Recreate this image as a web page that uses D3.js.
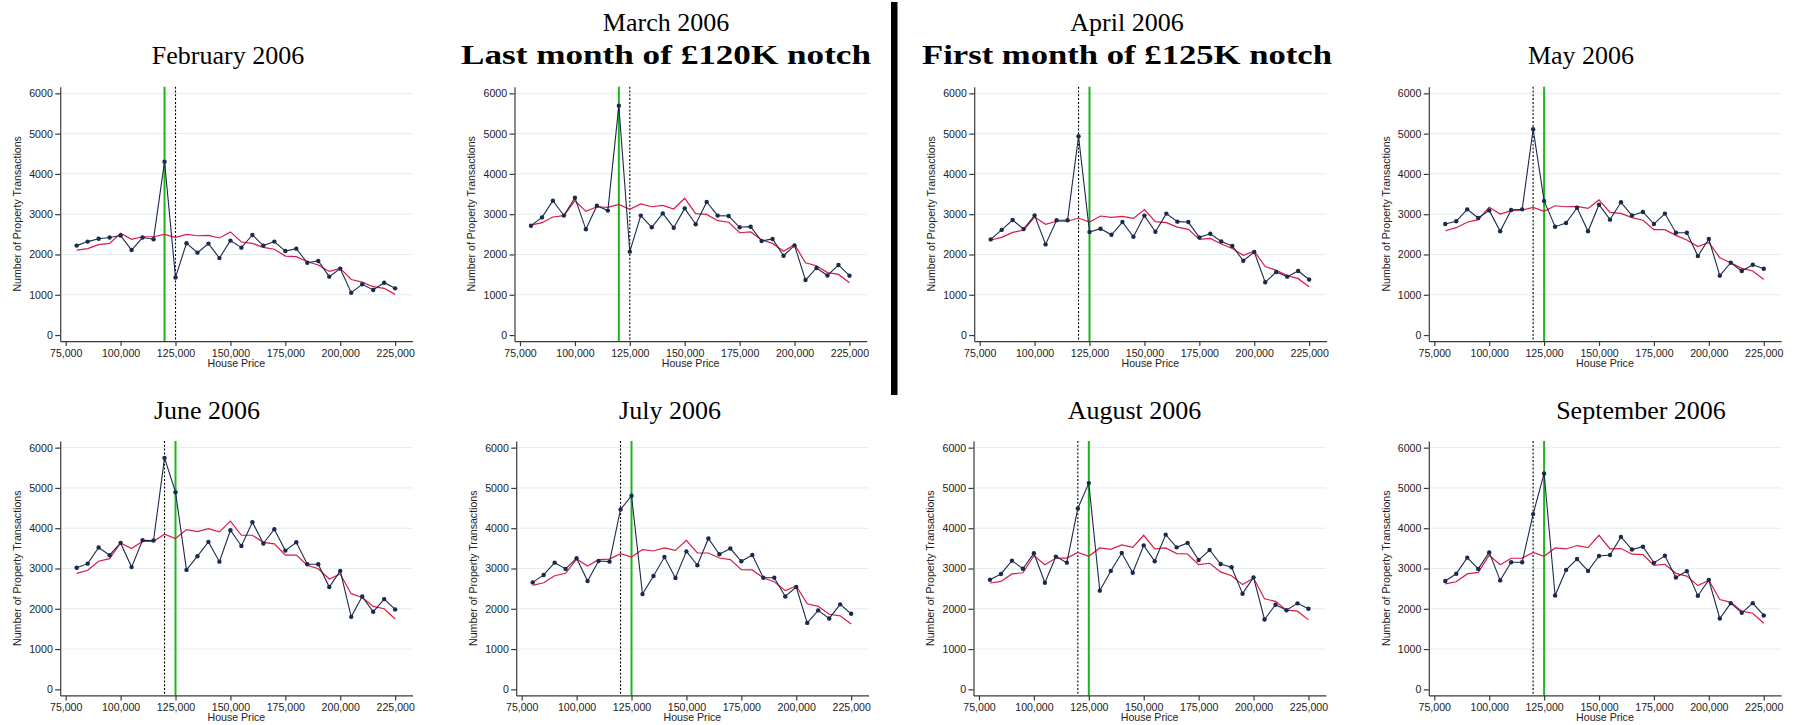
<!DOCTYPE html>
<html>
<head>
<meta charset="utf-8">
<script src="https://cdn.jsdelivr.net/npm/d3@7"></script>
<style>
  body { margin: 0; background: #fff; }
  svg { display: block; }
</style>
</head>
<body>
<svg id="chart" width="1796" height="725"></svg>
<script>
// house price bins (x categories)
const prices = [80000, 85000, 90000, 95000, 100000, 105000, 110000, 115000, 120000, 125000,
  130000, 135000, 140000, 145000, 150000, 155000, 160000, 165000, 170000, 175000,
  180000, 185000, 190000, 195000, 200000, 205000, 210000, 215000, 220000, 225000];

const xTicks = [75000, 100000, 125000, 150000, 175000, 200000, 225000];
const yTicks = [0, 1000, 2000, 3000, 4000, 5000, 6000];

const monthTitles = ['February 2006', 'March 2006', 'April 2006', 'May 2006',
  'June 2006', 'July 2006', 'August 2006', 'September 2006'];
const notchSubtitles = ['', 'Last month of £120K notch', 'First month of £125K notch', '',
  '', '', '', ''];

// threshold in force (green) and the other one (dashed)
const activeNotch = [120000, 120000, 125000, 125000, 125000, 125000, 125000, 125000];
const otherNotch = [125000, 125000, 120000, 120000, 120000, 120000, 120000, 120000];

// actual transactions (navy) and counterfactual (red), by month
const febActual = [2220, 2320, 2390, 2420, 2470, 2110, 2420, 2380, 4305, 1430, 2280, 2045, 2270, 1910, 2345, 2170, 2485, 2220, 2320, 2085, 2145, 1795, 1840, 1450, 1650, 1050, 1260, 1120, 1300, 1160];
const febCounter = [2110, 2145, 2245, 2275, 2525, 2375, 2440, 2440, 2500, 2425, 2500, 2465, 2475, 2410, 2560, 2310, 2275, 2175, 2130, 1960, 1945, 1820, 1740, 1580, 1655, 1380, 1315, 1200, 1160, 1010];

const marActual = [2715, 2920, 3335, 2965, 3410, 2625, 3210, 3090, 5695, 2070, 2965, 2675, 3020, 2665, 3145, 2750, 3305, 2965, 2955, 2675, 2690, 2335, 2385, 1970, 2225, 1365, 1665, 1480, 1740, 1475];
const marCounter = [2730, 2790, 2930, 2965, 3335, 3070, 3185, 3170, 3245, 3120, 3255, 3185, 3220, 3130, 3395, 3015, 2995, 2840, 2800, 2540, 2560, 2360, 2275, 2080, 2245, 1795, 1720, 1550, 1505, 1300];

const aprActual = [2375, 2610, 2855, 2630, 2970, 2250, 2850, 2850, 4935, 2560, 2640, 2490, 2805, 2440, 2965, 2565, 3015, 2815, 2805, 2425, 2515, 2325, 2210, 1845, 2060, 1310, 1565, 1450, 1590, 1380];
const aprCounter = [2360, 2425, 2550, 2600, 2930, 2750, 2825, 2825, 2905, 2805, 2955, 2920, 2945, 2895, 3115, 2815, 2790, 2680, 2625, 2375, 2400, 2260, 2150, 1980, 2080, 1700, 1605, 1475, 1400, 1200];

const mayActual = [2755, 2825, 3120, 2905, 3095, 2575, 3105, 3120, 5110, 3330, 2690, 2780, 3160, 2575, 3235, 2865, 3295, 2970, 3055, 2755, 3015, 2540, 2540, 1960, 2385, 1475, 1795, 1590, 1745, 1645];
const mayCounter = [2590, 2665, 2800, 2865, 3170, 3005, 3090, 3105, 3170, 3070, 3210, 3185, 3195, 3145, 3355, 3045, 3020, 2915, 2850, 2615, 2615, 2475, 2360, 2195, 2300, 1920, 1795, 1655, 1590, 1380];

const junActual = [3020, 3120, 3520, 3330, 3635, 3035, 3700, 3695, 5745, 4895, 2965, 3305, 3660, 3170, 3950, 3560, 4150, 3620, 3975, 3445, 3650, 3105, 3105, 2540, 2940, 1800, 2305, 1925, 2240, 1985];
const junCounter = [2880, 2955, 3180, 3245, 3635, 3495, 3675, 3675, 3850, 3745, 3965, 3915, 3990, 3910, 4175, 3825, 3825, 3650, 3610, 3330, 3335, 3080, 2995, 2740, 2865, 2375, 2280, 2060, 2000, 1745];

const julActual = [2655, 2840, 3145, 2990, 3255, 2690, 3185, 3170, 4465, 4805, 2365, 2815, 3285, 2765, 3425, 3080, 3745, 3355, 3495, 3180, 3335, 2770, 2770, 2305, 2540, 1650, 1960, 1760, 2110, 1875];
const julCounter = [2580, 2645, 2820, 2880, 3235, 3060, 3220, 3235, 3370, 3285, 3470, 3435, 3510, 3450, 3700, 3385, 3385, 3260, 3220, 2970, 2965, 2765, 2670, 2450, 2565, 2125, 2060, 1865, 1825, 1625];

const augActual = [2720, 2865, 3195, 2995, 3380, 2645, 3295, 3145, 4490, 5120, 2450, 2940, 3385, 2895, 3575, 3180, 3840, 3525, 3635, 3210, 3460, 3110, 3030, 2375, 2780, 1735, 2100, 1965, 2135, 2000];
const augCounter = [2640, 2680, 2865, 2895, 3320, 3095, 3260, 3260, 3400, 3305, 3510, 3475, 3585, 3525, 3825, 3485, 3510, 3370, 3360, 3095, 3130, 2915, 2820, 2600, 2765, 2250, 2185, 1965, 1940, 1725];

const sepActual = [2690, 2870, 3270, 2990, 3400, 2705, 3155, 3155, 4350, 5360, 2330, 2965, 3235, 2940, 3310, 3335, 3785, 3470, 3540, 3140, 3315, 2775, 2935, 2325, 2715, 1760, 2140, 1900, 2140, 1835];
const sepCounter = [2620, 2670, 2865, 2905, 3330, 3095, 3255, 3260, 3400, 3305, 3510, 3485, 3570, 3520, 3825, 3485, 3495, 3355, 3345, 3080, 3105, 2880, 2810, 2575, 2710, 2230, 2160, 1940, 1890, 1640];

const actualSeries = [febActual, marActual, aprActual, mayActual, junActual, julActual, augActual, sepActual];
const counterSeries = [febCounter, marCounter, aprCounter, mayCounter, junCounter, julCounter, augCounter, sepCounter];

// ---- layout ----
const NAVY = '#1b2a4c';
const RED = '#d81b46';
const GREEN = '#1eb41e';
const GRID = '#e3ecee';
const AXIS = '#3a3a3a';

// pixel position of the 75,000 tick in each panel (top row then bottom row)
const x75 = [65.7, 520, 979.7, 1434.3, 65.7, 521.7, 979, 1434.3];
const rowTop = [86.7, 441];
const plotH = 254.4;
const titleX = [228, 666, 1127, 1581, 207, 670, 1134.5, 1641];

let svg = d3.select('#chart');

function draw_panel (i) {
  let row = i < 4 ? 0 : 1;
  let top = rowTop[row];
  let bottom = top + plotH;
  let left = x75[i] - 5.5;

  let x = d3.scaleLinear()
    .domain([72500, 232900])
    .range([left, left + 352.3]);
  let y = d3.scaleLinear()
    .domain([-150, 6165])
    .range([bottom, top]);

  let g = svg.append('g');

  // gridlines
  g.selectAll('.grid')
    .data(yTicks.filter((d) => d > 0))
    .enter()
    .append('line')
    .attr('x1', left)
    .attr('x2', x.range()[1])
    .attr('y1', (d) => y(d))
    .attr('y2', (d) => y(d))
    .attr('stroke', GRID)
    .attr('stroke-width', 1);

  // notch lines
  g.append('line')
    .attr('x1', x(otherNotch[i]))
    .attr('x2', x(otherNotch[i]))
    .attr('y1', top)
    .attr('y2', bottom)
    .attr('stroke', '#000')
    .attr('stroke-width', 1.1)
    .attr('stroke-dasharray', '2,1.8');

  g.append('line')
    .attr('x1', x(activeNotch[i]))
    .attr('x2', x(activeNotch[i]))
    .attr('y1', top)
    .attr('y2', bottom)
    .attr('stroke', GREEN)
    .attr('stroke-width', 2);

  // counterfactual line
  g.append('path')
    .datum(counterSeries[i])
    .attr('fill', 'none')
    .attr('stroke', RED)
    .attr('stroke-width', 1.2)
    .attr('d', d3.line()
      .x((d, k) => x(prices[k]))
      .y((d) => y(d))
    );

  // actual line + markers
  g.append('path')
    .datum(actualSeries[i])
    .attr('fill', 'none')
    .attr('stroke', NAVY)
    .attr('stroke-width', 1.1)
    .attr('d', d3.line()
      .x((d, k) => x(prices[k]))
      .y((d) => y(d))
    );

  g.selectAll('.dot')
    .data(actualSeries[i])
    .enter()
    .append('circle')
    .attr('cx', (d, k) => x(prices[k]))
    .attr('cy', (d) => y(d))
    .attr('r', 2.2)
    .attr('fill', NAVY);

  // axes
  let xAxis = g.append('g')
    .attr('transform', `translate(0, ${bottom})`)
    .call(d3.axisBottom(x)
      .tickValues(xTicks)
      .tickFormat(d3.format(','))
      .tickSize(5)
      .tickSizeOuter(0)
      .tickPadding(3));

  let yAxis = g.append('g')
    .attr('transform', `translate(${left}, 0)`)
    .call(d3.axisLeft(y)
      .tickValues(yTicks)
      .tickFormat(d3.format('d'))
      .tickSize(5)
      .tickSizeOuter(0)
      .tickPadding(2.4));

  [xAxis, yAxis].forEach((a) => {
    a.selectAll('path, line').attr('stroke', AXIS).attr('stroke-width', 1.2);
    a.selectAll('text')
      .attr('fill', '#222')
      .style('font-family', '"Liberation Sans", Arial, sans-serif')
      .style('font-size', '10.6px');
  });

  // axis titles
  g.append('text')
    .attr('x', (left + x.range()[1]) / 2)
    .attr('y', bottom + 26)
    .attr('text-anchor', 'middle')
    .style('font-family', '"Liberation Sans", Arial, sans-serif')
    .style('font-size', '10.6px')
    .attr('fill', '#222')
    .text('House Price');

  g.append('text')
    .attr('transform', `translate(${left - 43}, ${(top + bottom) / 2}) rotate(-90)`)
    .attr('text-anchor', 'middle')
    .attr('dy', '0.35em')
    .style('font-family', '"Liberation Sans", Arial, sans-serif')
    .style('font-size', '10.6px')
    .attr('fill', '#222')
    .text('Number of Property Transactions');

  // panel titles
  let twoLine = notchSubtitles[i] !== '';
  let base = row === 0 ? 63.5 : 419;
  g.append('text')
    .attr('x', titleX[i])
    .attr('y', twoLine ? base - 32.5 : base)
    .attr('text-anchor', 'middle')
    .style('font-family', '"Liberation Serif", "Times New Roman", serif')
    .style('font-size', '26px')
    .attr('fill', '#000')
    .text(monthTitles[i]);

  if (twoLine) {
    g.append('text')
      .attr('x', titleX[i])
      .attr('y', base)
      .attr('text-anchor', 'middle')
      .attr('textLength', 410)
      .attr('lengthAdjust', 'spacingAndGlyphs')
      .style('font-family', '"Liberation Serif", "Times New Roman", serif')
      .style('font-size', '27px')
      .style('font-weight', 'bold')
      .attr('fill', '#000')
      .text(notchSubtitles[i]);
  }
}

for (let i = 0; i < 8; i++) {
  draw_panel(i);
}

// thick separator between the 120K and 125K notch regimes
svg.append('rect')
  .attr('x', 891)
  .attr('y', 2)
  .attr('width', 6.5)
  .attr('height', 393)
  .attr('fill', '#000');
</script>
</body>
</html>
